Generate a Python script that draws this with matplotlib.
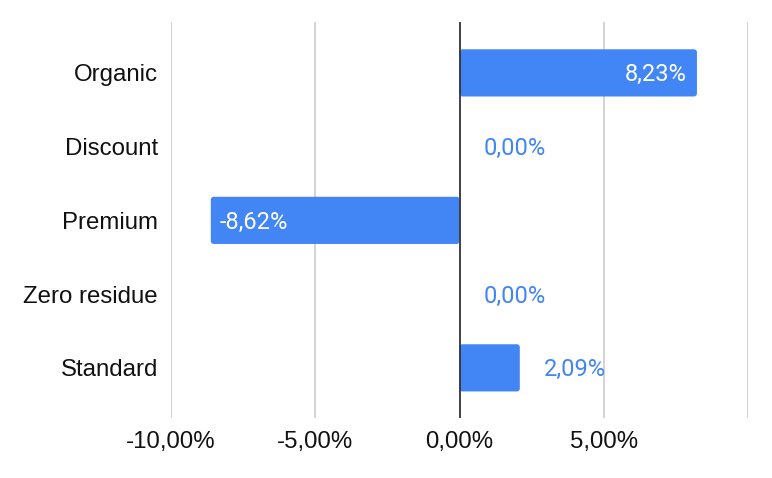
import matplotlib.pyplot as plt
from matplotlib.patches import FancyBboxPatch

categories = ["Organic", "Discount", "Premium", "Zero residue", "Standard"]
values = [8.23, 0.00, -8.62, 0.00, 2.09]
tick_values = [-10, -5, 0, 5, 10]
tick_labels = ["-10,00%", "-5,00%", "0,00%", "5,00%", ""]

blue = "#4285F4"
plt.rcParams['font.family'] = ['Liberation Sans', 'DejaVu Sans']

fig = plt.figure(figsize=(7.72, 4.78), dpi=100)
ax = fig.add_axes([171 / 772, 60 / 478, 577 / 772, 396 / 478])

ax.set_xlim(-10, 10)
ax.set_ylim(4.68, -0.69)

ypos = list(range(len(categories)))
bar_h = 0.64
# bars with slightly rounded corners (about 3 px)
x_per_px = 20 / 577
y_per_px = 5.37 / 396
for y, v in zip(ypos, values):
    if v == 0:
        continue
    x0 = min(0, v)
    patch = FancyBboxPatch((x0, y - bar_h / 2), abs(v), bar_h,
                           boxstyle=f"round,pad=0,rounding_size={3 * x_per_px}",
                           mutation_aspect=y_per_px / x_per_px,
                           facecolor=blue, edgecolor="none", zorder=2)
    ax.add_patch(patch)

ax.set_xticks(tick_values)
ax.set_xticklabels(tick_labels)
ax.set_yticks(ypos)
ax.set_yticklabels(categories)
ax.tick_params(axis='both', length=0, labelsize=17.3, colors="#111111")
ax.tick_params(axis='y', pad=9.4)
ax.tick_params(axis='x', pad=9.5)

for x in tick_values:
    if x == 0:
        ax.axvline(x, color="#333333", lw=1.3, zorder=3)
    else:
        ax.axvline(x, color="#cccccc", lw=1.2, zorder=1)

for s in ax.spines.values():
    s.set_visible(False)

def fmt(v):
    return f"{v:.2f}".replace(".", ",") + "%"

lab_font = dict(family=['Roboto', 'DejaVu Sans'], fontsize=17)
for y, v in zip(ypos, values):
    if v >= 5:
        ax.annotate(fmt(v), (v, y), xytext=(-10, -2), textcoords="offset pixels",
                    ha="right", va="center", color="white", **lab_font)
    elif v <= -5:
        ax.annotate(fmt(v), (v, y), xytext=(9, -2), textcoords="offset pixels",
                    ha="left", va="center", color="white", **lab_font)
    else:
        ax.annotate(fmt(v), (v, y), xytext=(24, -2), textcoords="offset pixels",
                    ha="left", va="center", color=blue, **lab_font)

fig.savefig("out.png", dpi=100)
